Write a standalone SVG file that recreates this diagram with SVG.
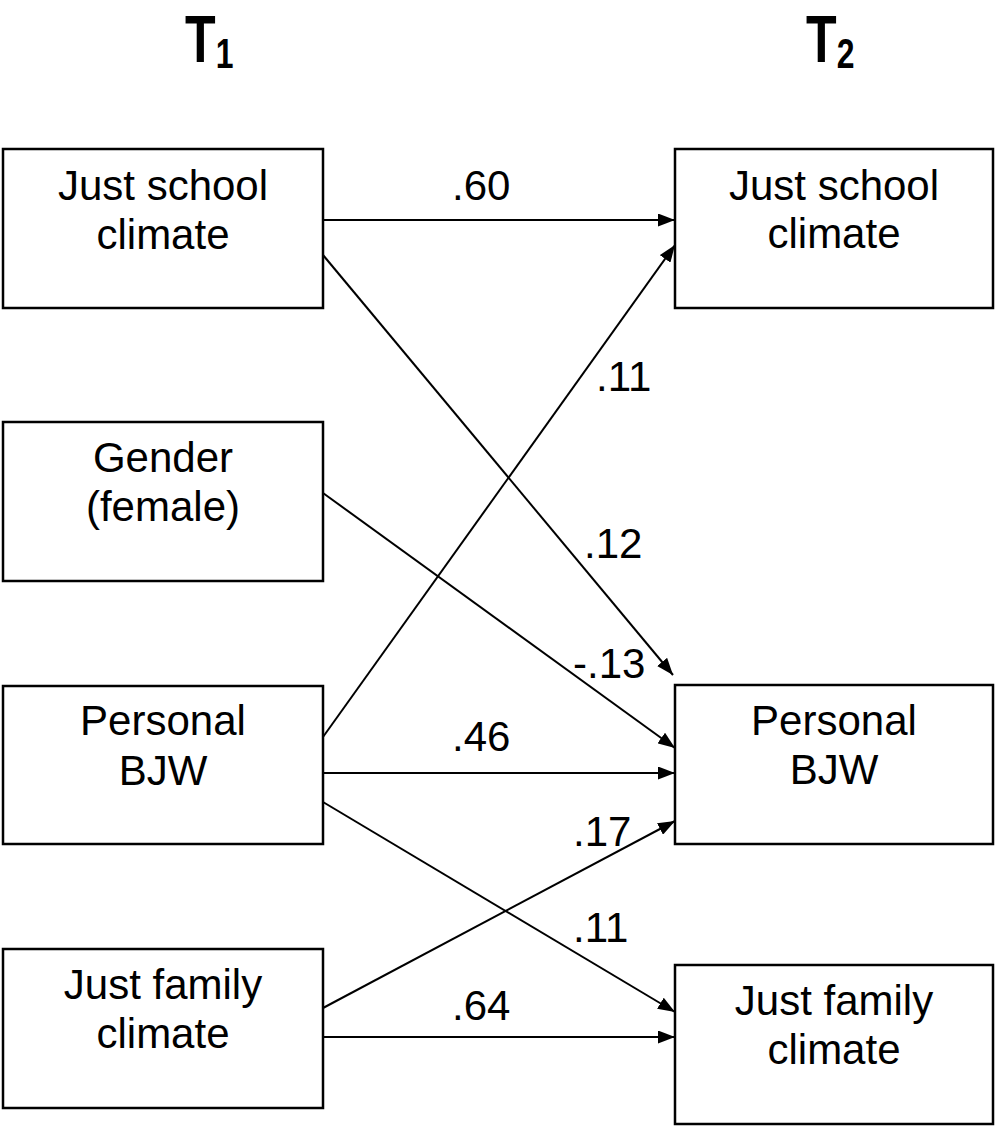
<svg xmlns="http://www.w3.org/2000/svg" width="995" height="1126" viewBox="0 0 995 1126">
<style>
.box{fill:#fff;stroke:#000;stroke-width:2.5}
.t{font-family:"Liberation Sans",Arial,sans-serif;font-size:42px;fill:#000;text-anchor:middle}
.lbl{font-family:"Liberation Sans",Arial,sans-serif;font-size:42px;fill:#000}
.hd{font-family:"Liberation Sans",Arial,sans-serif;font-weight:bold;fill:#000}
.c{stroke:#000;stroke-width:2;fill:none;marker-end:url(#ah)}
</style>
<defs>
<marker id="ah" markerUnits="userSpaceOnUse" markerWidth="17" markerHeight="13" refX="17" refY="6.5" orient="auto">
<path d="M0,0 L17,6.5 L0,13 z" fill="#000"/>
</marker>
</defs>
<rect width="995" height="1126" fill="#fff"/>
<g id="headers">
<text class="hd" x="185" y="62" font-size="66" transform="translate(185,0) scale(0.76,1) translate(-185,0)">T<tspan font-size="42" dy="6">1</tspan></text>
<text class="hd" x="806" y="62" font-size="66" transform="translate(806,0) scale(0.76,1) translate(-806,0)">T<tspan font-size="42" dy="6">2</tspan></text>
</g>
<g id="connectors">
<line class="c" x1="323" y1="220" x2="675" y2="220"/>
<line class="c" x1="323" y1="255" x2="673" y2="675"/>
<line class="c" x1="323" y1="737" x2="675" y2="245"/>
<line class="c" x1="323" y1="493" x2="675" y2="748"/>
<line class="c" x1="323" y1="773" x2="675" y2="773"/>
<line class="c" x1="323" y1="802" x2="675" y2="1012"/>
<line class="c" x1="323" y1="1008" x2="675" y2="821"/>
<line class="c" x1="323" y1="1037" x2="675" y2="1037"/>
</g>
<g id="labels">
<text class="lbl" x="452" y="200">.60</text>
<text class="lbl" x="596" y="391">.11</text>
<text class="lbl" x="584" y="558">.12</text>
<text class="lbl" x="573" y="678">-.13</text>
<text class="lbl" x="452" y="751">.46</text>
<text class="lbl" x="573" y="846">.17</text>
<text class="lbl" x="573" y="942">.11</text>
<text class="lbl" x="452" y="1020">.64</text>
</g>
<g id="t1-school">
<rect class="box" x="3" y="149" width="320" height="159"/>
<text class="t" x="163" y="200">Just school</text>
<text class="t" x="163" y="249">climate</text>
</g>
<g id="t1-gender">
<rect class="box" x="3" y="422" width="320" height="159"/>
<text class="t" x="163" y="472">Gender</text>
<text class="t" x="163" y="521">(female)</text>
</g>
<g id="t1-bjw">
<rect class="box" x="3" y="686" width="320" height="158"/>
<text class="t" x="163" y="735">Personal</text>
<text class="t" x="163" y="785">BJW</text>
</g>
<g id="t1-family">
<rect class="box" x="3" y="949" width="320" height="159"/>
<text class="t" x="163" y="999">Just family</text>
<text class="t" x="163" y="1048">climate</text>
</g>
<g id="t2-school">
<rect class="box" x="675" y="149" width="318" height="159"/>
<text class="t" x="834" y="200">Just school</text>
<text class="t" x="834" y="248">climate</text>
</g>
<g id="t2-bjw">
<rect class="box" x="675" y="685" width="318" height="159"/>
<text class="t" x="834" y="735">Personal</text>
<text class="t" x="834" y="784">BJW</text>
</g>
<g id="t2-family">
<rect class="box" x="675" y="965" width="318" height="159"/>
<text class="t" x="834" y="1015">Just family</text>
<text class="t" x="834" y="1064">climate</text>
</g>
</svg>
